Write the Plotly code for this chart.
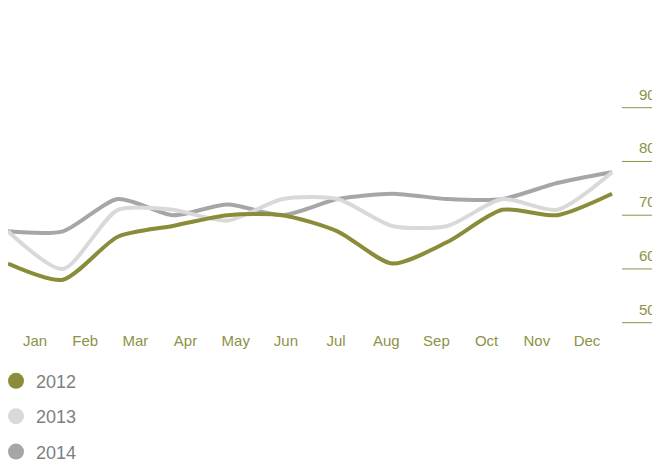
import plotly.graph_objects as go

MONTHS = ["Jan", "Feb", "Mar", "Apr", "May", "Jun", "Jul", "Aug", "Sep", "Oct", "Nov", "Dec"]
SERIES_NAMES = ["2012", "2013", "2014"]
VALUES_2012 = [61, 58, 66, 68, 70, 70, 67, 61, 65, 71, 70, 74]
VALUES_2013 = [67, 60, 71, 71, 69, 73, 73, 68, 68, 73, 71, 78]
VALUES_2014 = [67, 67, 73, 70, 72, 70, 73, 74, 73, 73, 76, 78]
Y_TICKS = [50, 60, 70, 80, 90]

OLIVE = "#8a8c3a"
OLIVE_TEXT = "#8f9146"
LIGHT = "#d9d9d9"
MID = "#a6a6a6"
FONT = "Liberation Sans, Arial, sans-serif"

# the page adds an 8px body margin, so the figure is sized to fit the window
W, H = 652, 452
PLOT_W = 607
PLOT_H = 230

series = [
    ("2014", VALUES_2014, MID),
    ("2013", VALUES_2013, LIGHT),
    ("2012", VALUES_2012, OLIVE),
]

fig = go.Figure()
x_idx = list(range(len(MONTHS)))
for name, vals, col in series:
    fig.add_trace(go.Scatter(
        x=x_idx, y=vals, mode="lines", name=name,
        line=dict(color=col, width=4, shape="spline", smoothing=0.7),
        showlegend=False, hoverinfo="skip",
    ))

legend_colors = {"2012": OLIVE, "2013": LIGHT, "2014": MID}
for i, name in enumerate(SERIES_NAMES):
    fig.add_trace(go.Scatter(
        x=[None], y=[None], mode="markers", name=name,
        marker=dict(color=legend_colors[name], size=16, symbol="circle"),
        legendgroup=name, legendrank=i, xaxis="x2",
    ))

shapes = []
annotations = []
for t in Y_TICKS:
    shapes.append(dict(type="line", xref="paper", yref="y",
                       x0=614 / PLOT_W, x1=653 / PLOT_W, y0=t, y1=t,
                       line=dict(color=OLIVE_TEXT, width=1)))
    annotations.append(dict(xref="paper", yref="y", x=650 / PLOT_W, y=t,
                            text=str(t), showarrow=False, xanchor="right",
                            yanchor="bottom", yshift=3,
                            font=dict(family=FONT, size=15, color=OLIVE_TEXT)))

annotations.append(dict(xref="paper", yref="paper", x=1 / PLOT_W, y=(PLOT_H + 92 + 1) / PLOT_H,
                        text="(in thousand units)", showarrow=False,
                        xanchor="left", yanchor="bottom",
                        font=dict(family=FONT, size=19, color=OLIVE_TEXT)))

k_data = 54.91
k_lab = 50.18
fig.update_layout(
    width=W, height=H,
    margin=dict(l=0, r=W - PLOT_W, t=92, b=H - 92 - PLOT_H, autoexpand=False),
    paper_bgcolor="white", plot_bgcolor="white",
    font=dict(family=FONT),
    xaxis=dict(range=[0, PLOT_W / k_data], showgrid=False, zeroline=False,
               showline=False, showticklabels=False, ticks=""),
    xaxis2=dict(overlaying="x", range=[-27 / k_lab, -27 / k_lab + PLOT_W / k_lab],
                tickmode="array", tickvals=x_idx, ticktext=MONTHS,
                showgrid=False, zeroline=False, showline=False, ticks="",
                side="bottom", anchor="y",
                tickfont=dict(family=FONT, size=15, color=OLIVE_TEXT)),
    yaxis=dict(range=[50 - 7.3 / 5.375, 50 + 222.7 / 5.375], showgrid=False,
               zeroline=False, showline=False, showticklabels=False, ticks=""),
    shapes=shapes,
    annotations=annotations,
    showlegend=True,
    legend=dict(x=-12 / PLOT_W, y=-32.6 / PLOT_H, xanchor="left", yanchor="top",
                orientation="v", tracegroupgap=9, itemsizing="trace",
                font=dict(family=FONT, size=18, color="#808080"),
                bgcolor="rgba(0,0,0,0)"),
)

fig.write_html("out.html")
